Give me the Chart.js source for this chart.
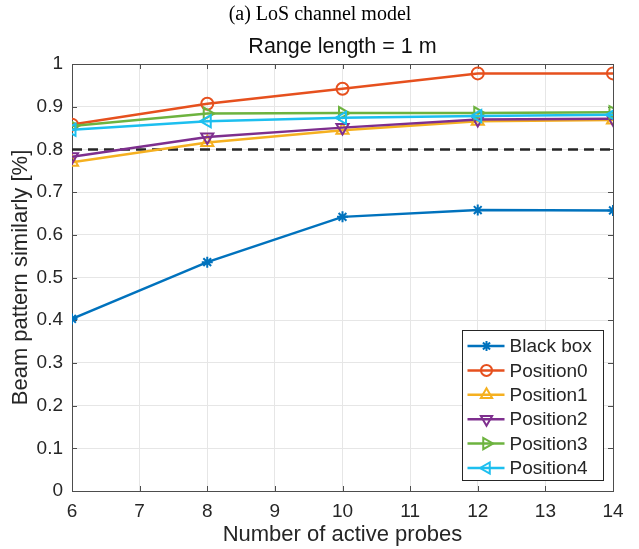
<!DOCTYPE html>
<html>
<head>
<meta charset="utf-8">
<script src="https://cdn.jsdelivr.net/npm/chart.js@4/dist/chart.umd.min.js"></script>
<style>
  html, body { margin: 0; padding: 0; background: #fff; }
  #wrap { width: 639px; height: 549px; position: relative; }
</style>
</head>
<body>
<div id="wrap"><canvas id="c" width="639" height="549"></canvas></div>
<script>
// Number of active probes (x) and beam pattern similarity per configuration
const probes    = [6, 8, 10, 12, 14];
const blackBox  = [0.403, 0.536, 0.642, 0.658, 0.657];
const position0 = [0.858, 0.907, 0.942, 0.978, 0.978];
const position1 = [0.770, 0.816, 0.845, 0.866, 0.869];
const position2 = [0.783, 0.829, 0.851, 0.870, 0.872];
const position3 = [0.855, 0.884, 0.885, 0.885, 0.887];
const position4 = [0.846, 0.866, 0.874, 0.878, 0.881];
const threshold = 0.8;

const seriesNames = ['Black box', 'Position0', 'Position1', 'Position2', 'Position3', 'Position4'];
const xTickLabels = ['6', '7', '8', '9', '10', '11', '12', '13', '14'];
const yTickLabels = ['0', '0.1', '0.2', '0.3', '0.4', '0.5', '0.6', '0.7', '0.8', '0.9', '1'];

const titleText = '(a) LoS channel model';
const subtitleText = 'Range length = 1 m';
const xTitle = 'Number of active probes';
const yTitle = 'Beam pattern similarly [%]';

const colors  = ['#0072BD', '#E6501E', '#F5B020', '#7E2F8E', '#6DB33F', '#1DBFEF'];
const styles  = ['star', 'circle', 'triangle', 'triangle', 'triangle', 'triangle'];
const rotates = [0, 0, 0, 180, 90, 270];
const radii   = [5.5, 6, 7, 7, 7, 7];
const values  = [blackBox, position0, position1, position2, position3, position4];

const SANS = '"Liberation Sans", Arial, Helvetica, sans-serif';
const SERIF = '"Liberation Serif", "Times New Roman", serif';
const TEXT = '#262626';

const datasets = values.map((vals, i) => ({
  label: seriesNames[i],
  data: probes.map((p, k) => ({ x: p, y: vals[k] })),
  borderColor: colors[i],
  borderWidth: 2.5,
  pointStyle: styles[i],
  pointRotation: rotates[i],
  pointRadius: radii[i],
  pointBorderWidth: 2,
  pointBorderColor: colors[i],
  pointBackgroundColor: 'rgba(0,0,0,0)',
  tension: 0,
  order: 10 - i
}));

datasets.push({
  label: 'threshold',
  data: [{ x: probes[0], y: threshold }, { x: probes[probes.length - 1], y: threshold }],
  borderColor: TEXT,
  borderWidth: 2.5,
  borderDash: [10, 6],
  pointRadius: 0,
  order: 20
});

// Axes box with inward tick marks on all four sides
const boxPlugin = {
  id: 'box',
  beforeDatasetsDraw(chart) {
    const { ctx, chartArea: a, scales } = chart;
    ctx.save();
    ctx.strokeStyle = '#4d4d4d';
    ctx.lineWidth = 1;
    const L = 5;
    ctx.beginPath();
    scales.x.ticks.forEach(t => {
      const px = Math.round(scales.x.getPixelForValue(t.value)) + 0.5;
      ctx.moveTo(px, a.bottom); ctx.lineTo(px, a.bottom - L);
      ctx.moveTo(px, a.top); ctx.lineTo(px, a.top + L);
    });
    scales.y.ticks.forEach(t => {
      const py = Math.round(scales.y.getPixelForValue(t.value)) + 0.5;
      ctx.moveTo(a.left, py); ctx.lineTo(a.left + L, py);
      ctx.moveTo(a.right, py); ctx.lineTo(a.right - L, py);
    });
    ctx.stroke();
    ctx.strokeRect(Math.round(a.left) + 0.5, Math.round(a.top) + 0.5,
                   Math.round(a.right - a.left), Math.round(a.bottom - a.top));
    ctx.restore();
  }
};

// Legend drawn inside the lower right of the axes
const legendPlugin = {
  id: 'insideLegend',
  afterDatasetsDraw(chart) {
    const { ctx, chartArea: a } = chart;
    const w = 141, rowH = 24.4, h = 150;
    const x0 = Math.round(a.right) - 10 - w + 0.5;
    const y0 = Math.round(a.bottom) - 11 - h + 0.5;
    ctx.save();
    ctx.fillStyle = '#fff';
    ctx.fillRect(x0, y0, w, h);
    ctx.strokeStyle = '#262626';
    ctx.lineWidth = 1;
    ctx.strokeRect(x0, y0, w, h);
    ctx.font = '19px ' + SANS;
    ctx.textBaseline = 'middle';
    ctx.textAlign = 'left';
    seriesNames.forEach((name, i) => {
      const cy = y0 + 15.5 + i * rowH;
      ctx.strokeStyle = colors[i];
      ctx.lineWidth = 2.5;
      ctx.setLineDash([]);
      ctx.beginPath();
      ctx.moveTo(x0 + 5, cy);
      ctx.lineTo(x0 + 42, cy);
      ctx.stroke();
      ctx.lineWidth = 2;
      ctx.fillStyle = 'rgba(0,0,0,0)';
      Chart.helpers.drawPoint(ctx, {
        pointStyle: styles[i], radius: radii[i] - 0.5, rotation: rotates[i], borderWidth: 2
      }, x0 + 24, cy);
      ctx.fillStyle = TEXT;
      ctx.fillText(name, x0 + 47, cy + 1);
    });
    ctx.restore();
  }
};

// Figure caption and axes title
const titlePlugin = {
  id: 'titles',
  afterDraw(chart) {
    const { ctx, chartArea: a } = chart;
    ctx.save();
    ctx.fillStyle = '#000';
    ctx.textAlign = 'center';
    ctx.textBaseline = 'middle';
    ctx.font = '20px ' + SERIF;
    ctx.fillText(titleText, 320, 15);
    ctx.font = '21.5px ' + SANS;
    ctx.fillStyle = '#111';
    ctx.fillText(subtitleText, (a.left + a.right) / 2, 47);
    ctx.restore();
  }
};

new Chart(document.getElementById('c'), {
  type: 'line',
  data: { datasets },
  options: {
    responsive: false,
    animation: false,
    events: [],
    layout: { padding: { left: 8, right: 26, top: 64, bottom: 0 } },
    plugins: { legend: { display: false }, tooltip: { enabled: false } },
    scales: {
      x: {
        type: 'linear',
        min: 6, max: 14,
        afterFit(scale) { scale.height = 58; },
        afterBuildTicks(scale) {
          scale.ticks = xTickLabels.map(v => ({ value: Number(v) }));
        },
        ticks: {
          padding: 9,
          color: TEXT,
          font: { family: SANS, size: 19 },
          maxRotation: 0,
          callback: (v, i) => xTickLabels[i]
        },
        grid: { color: '#e6e6e6', lineWidth: 1, drawTicks: false },
        border: { display: false },
        title: {
          display: true, text: xTitle, color: TEXT,
          font: { family: SANS, size: 22 },
          padding: { top: 0, bottom: 1 }
        }
      },
      y: {
        type: 'linear',
        min: 0, max: 1,
        afterFit(scale) { scale.width = 64; },
        afterBuildTicks(scale) {
          scale.ticks = yTickLabels.map(v => ({ value: Number(v) }));
        },
        ticks: {
          padding: 9,
          color: TEXT,
          font: { family: SANS, size: 19 },
          callback: (v, i) => yTickLabels[i]
        },
        grid: { color: '#e6e6e6', lineWidth: 1, drawTicks: false },
        border: { display: false },
        title: {
          display: true, text: yTitle, color: TEXT,
          font: { family: SANS, size: 22 },
          padding: { top: 0, bottom: 0 }
        }
      }
    }
  },
  plugins: [boxPlugin, legendPlugin, titlePlugin]
});
</script>
</body>
</html>
